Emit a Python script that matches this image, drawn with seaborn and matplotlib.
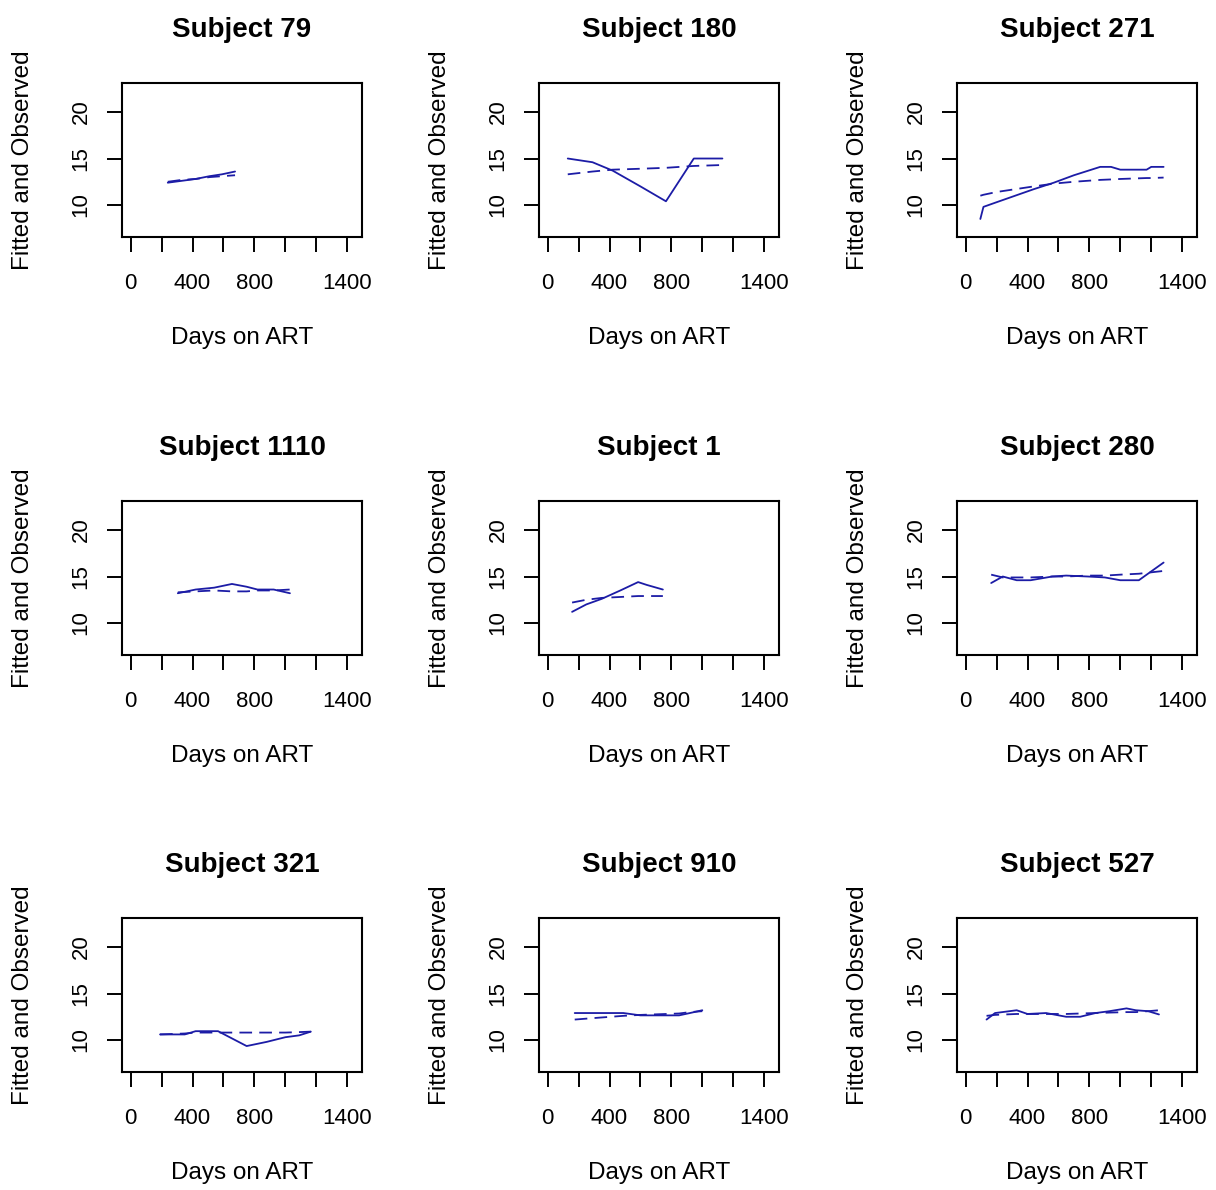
import numpy as np
import pandas as pd
import matplotlib
matplotlib.use("Agg")
import matplotlib.pyplot as plt
import seaborn as sns

# ---- data ----
subjects = ["79", "180", "271", "1110", "1", "280", "321", "910", "527"]

days_79 = [240, 330, 420, 510, 590, 675]
obs_79 = [12.4, 12.6, 12.8, 13.1, 13.3, 13.6]
fit_79 = [12.5, 12.7, 12.8, 13.0, 13.1, 13.2]

days_180 = [130, 290, 420, 600, 765, 945, 1130]
obs_180 = [15.0, 14.6, 13.7, 12.0, 10.4, 15.0, 15.0]
fit_180 = [13.3, 13.6, 13.8, 13.9, 14.0, 14.2, 14.3]

days_271 = [95, 115, 200, 320, 440, 570, 700, 870, 940, 1000, 1170, 1200, 1280]
obs_271 = [8.5, 9.8, 10.3, 11.0, 11.7, 12.4, 13.2, 14.1, 14.1, 13.8, 13.8, 14.1, 14.1]
fit_271 = [11.0, 11.1, 11.4, 11.7, 12.0, 12.3, 12.5, 12.7, 12.75, 12.8, 12.9, 12.9, 12.95]

days_1110 = [305, 420, 540, 655, 750, 820, 925, 1030]
obs_1110 = [13.2, 13.6, 13.8, 14.2, 13.9, 13.6, 13.6, 13.2]
fit_1110 = [13.3, 13.4, 13.5, 13.4, 13.4, 13.5, 13.5, 13.6]

days_1 = [158, 250, 350, 470, 585, 640, 745]
obs_1 = [11.2, 12.0, 12.6, 13.5, 14.4, 14.1, 13.6]
fit_1 = [12.2, 12.5, 12.7, 12.8, 12.9, 12.9, 12.9]

days_280 = [165, 240, 330, 420, 560, 650, 790, 900, 1000, 1120, 1280]
obs_280 = [14.3, 15.0, 14.6, 14.6, 15.0, 15.1, 15.0, 14.9, 14.6, 14.6, 16.5]
fit_280 = [15.2, 14.9, 14.9, 14.9, 15.0, 15.0, 15.1, 15.1, 15.2, 15.3, 15.6]

days_321 = [190, 350, 420, 565, 750, 880, 1000, 1090, 1165]
obs_321 = [10.6, 10.6, 10.95, 10.95, 9.35, 9.8, 10.3, 10.5, 10.9]
fit_321 = [10.6, 10.7, 10.8, 10.8, 10.8, 10.8, 10.8, 10.85, 10.9]

days_910 = [175, 330, 490, 600, 850, 920, 1000]
obs_910 = [12.9, 12.9, 12.9, 12.65, 12.65, 12.9, 13.2]
fit_910 = [12.2, 12.4, 12.6, 12.7, 12.85, 13.0, 13.1]

days_527 = [135, 190, 330, 400, 520, 650, 740, 840, 930, 1040, 1100, 1180, 1250]
obs_527 = [12.2, 12.9, 13.2, 12.8, 12.9, 12.5, 12.5, 12.9, 13.1, 13.4, 13.2, 13.1, 12.75]
fit_527 = [12.6, 12.7, 12.8, 12.8, 12.8, 12.8, 12.85, 12.9, 12.95, 13.0, 13.0, 13.1, 13.2]

series = {
    "79": (days_79, obs_79, fit_79),
    "180": (days_180, obs_180, fit_180),
    "271": (days_271, obs_271, fit_271),
    "1110": (days_1110, obs_1110, fit_1110),
    "1": (days_1, obs_1, fit_1),
    "280": (days_280, obs_280, fit_280),
    "321": (days_321, obs_321, fit_321),
    "910": (days_910, obs_910, fit_910),
    "527": (days_527, obs_527, fit_527),
}

x_ticks = [0, 200, 400, 600, 800, 1000, 1200, 1400]
x_tick_labels = ["0", "", "400", "", "800", "", "", "1400"]
y_ticks = [10, 15, 20]
y_tick_labels = ["10", "15", "20"]

# ---- style ----
sns.set_style("white")
plt.rcParams["font.family"] = ["Liberation Sans", "DejaVu Sans"]
plt.rcParams["text.color"] = "black"
plt.rcParams["axes.labelcolor"] = "black"

W, H = 1216, 1190
fig = plt.figure(figsize=(W / 100, H / 100), dpi=100)

col_left = [122, 539, 957]
row_top = [83, 501, 918]
box_w, box_h = 240, 154
line_color = "#1c1ca6"

for i, sid in enumerate(subjects):
    r, c = divmod(i, 3)
    left = col_left[c] / W
    bottom = 1 - (row_top[r] + box_h) / H
    ax = fig.add_axes([left, bottom, box_w / W, box_h / H])

    d, o, f = series[sid]
    df = pd.DataFrame({
        "day": list(d) + list(d),
        "value": list(o) + list(f),
        "kind": ["Observed"] * len(d) + ["Fitted"] * len(d),
    })
    sns.lineplot(data=df, x="day", y="value", style="kind",
                 dashes={"Observed": "", "Fitted": (7, 4)},
                 color=line_color, linewidth=1.3, legend=False,
                 estimator=None, sort=False, ax=ax)

    ax.set_xlim(-56, 1496)
    ax.set_ylim(6.56, 23.12)
    ax.set_xticks(x_ticks)
    ax.set_xticklabels(x_tick_labels)
    ax.set_yticks(y_ticks)
    ax.set_yticklabels(y_tick_labels, rotation=90, va="center")

    for sp in ax.spines.values():
        sp.set_visible(True)
        sp.set_color("black")
        sp.set_linewidth(1.5)

    ax.tick_params(axis="both", direction="out", length=10.8, width=1.4,
                   color="black", labelsize=16, labelcolor="black")
    ax.tick_params(axis="x", pad=15, bottom=True)
    ax.tick_params(axis="y", pad=11, left=True)

    ax.set_xlabel("Days on ART", fontsize=17.5, va="center", color="black")
    ax.xaxis.set_label_coords(0.5, -101 / box_h)
    ax.set_ylabel("Fitted and Observed", fontsize=17.5, va="center",
                  ha="center", color="black")
    ax.yaxis.set_label_coords(-99 / box_w, 0.5)
    ax.set_title(f"Subject {sid}", fontsize=20, fontweight="bold", pad=33,
                 color="black")

fig.savefig("out.png", dpi=100, facecolor="white")
